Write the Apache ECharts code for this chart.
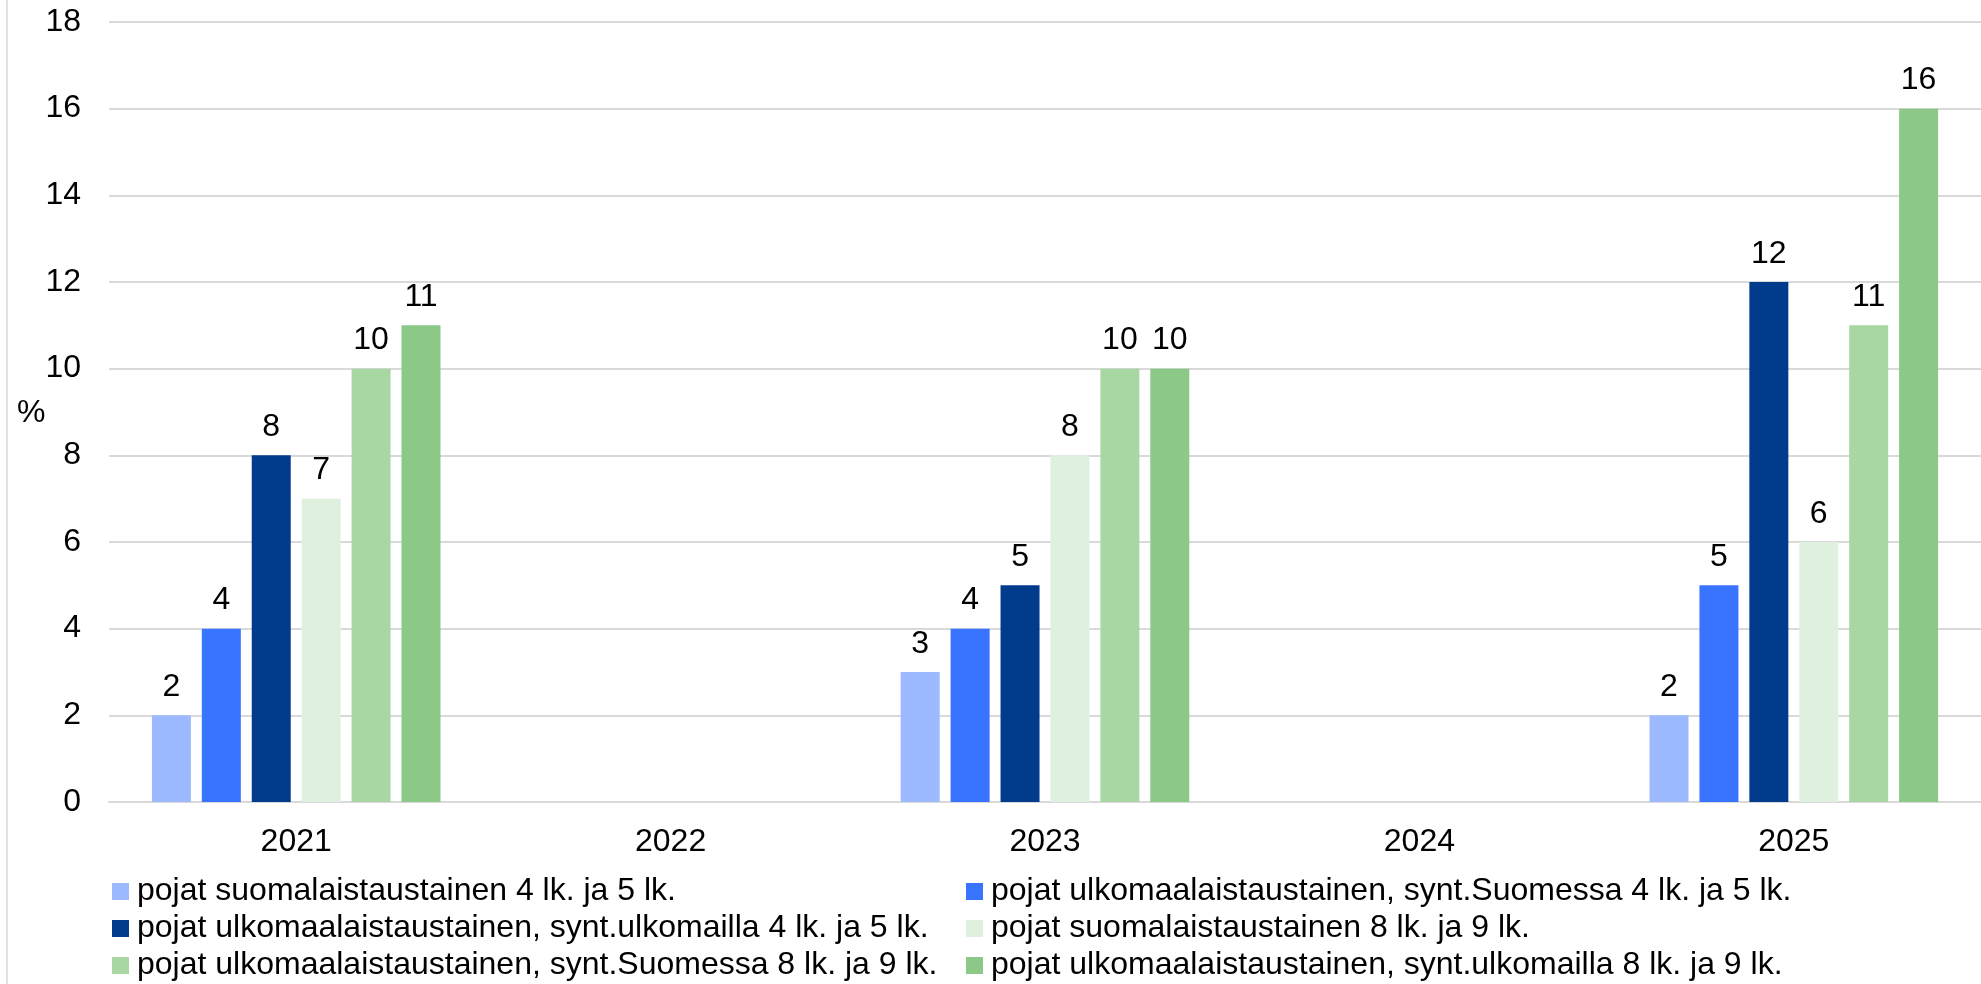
<!DOCTYPE html>
<html>
<head>
<meta charset="utf-8">
<script src="https://cdn.jsdelivr.net/npm/echarts@6/dist/echarts.min.js"></script>
<style>
html,body{margin:0;padding:0;background:#fff;}
#chart{width:1981px;height:984px;}
</style>
</head>
<body>
<div id="chart"></div>
<script>
const categories = ['2021', '2022', '2023', '2024', '2025'];
const seriesNames = [
  'pojat suomalaistaustainen 4 lk. ja 5 lk.',
  'pojat ulkomaalaistaustainen, synt.Suomessa 4 lk. ja 5 lk.',
  'pojat ulkomaalaistaustainen, synt.ulkomailla 4 lk. ja 5 lk.',
  'pojat suomalaistaustainen 8 lk. ja 9 lk.',
  'pojat ulkomaalaistaustainen, synt.Suomessa 8 lk. ja 9 lk.',
  'pojat ulkomaalaistaustainen, synt.ulkomailla 8 lk. ja 9 lk.'
];
const s1 = [2, null, 3, null, 2];
const s2 = [4, null, 4, null, 5];
const s3 = [8, null, 5, null, 12];
const s4 = [7, null, 8, null, 6];
const s5 = [10, null, 10, null, 11];
const s6 = [11, null, 10, null, 16];
const colors = ['#9DB9FF', '#3874FF', '#003B8C', '#E0F0DF', '#A8D7A3', '#8CC988'];
const yTicks = [0, 2, 4, 6, 8, 10, 12, 14, 16, 18];

const FONT = 'Liberation Sans, Arial, sans-serif';
const FS = 32;
const allData = [s1, s2, s3, s4, s5, s6];

const chart = echarts.init(document.getElementById('chart'));
chart.setOption({
  animation: false,
  color: colors,
  textStyle: { fontFamily: FONT },
  grid: { left: 109, right: -12, top: 22, bottom: 182, containLabel: false },
  graphic: [
    { type: 'line', shape: { x1: 7, y1: 0, x2: 7, y2: 984 }, style: { stroke: '#DDE3EA', lineWidth: 2 } },
    { type: 'text', left: 17, top: 397, style: { text: '%', fontSize: FS, fontFamily: FONT, fill: '#000' } }
  ],
  xAxis: {
    type: 'category',
    data: categories,
    axisLine: { show: true, lineStyle: { color: '#D9D9D9', width: 2 } },
    axisTick: { show: false },
    axisLabel: { color: '#000', fontSize: FS, fontFamily: FONT, margin: 24 }
  },
  yAxis: {
    type: 'value',
    min: yTicks[0],
    max: yTicks[yTicks.length - 1],
    interval: 2,
    axisLine: { show: false },
    axisTick: { show: false },
    axisLabel: { color: '#000', fontSize: FS, fontFamily: FONT, margin: 28 },
    splitLine: { lineStyle: { color: '#D9D9D9', width: 2 } }
  },
  legend: [
    {
      orient: 'vertical', left: 112, top: 873, padding: 0, itemGap: 0,
      itemWidth: 17, itemHeight: 17, icon: 'rect',
      data: [seriesNames[0], seriesNames[2], seriesNames[4]],
      textStyle: { fontSize: FS, fontFamily: FONT, color: '#000', lineHeight: 37, padding: [0, 0, 0, 3] }
    },
    {
      orient: 'vertical', left: 966, top: 873, padding: 0, itemGap: 0,
      itemWidth: 17, itemHeight: 17, icon: 'rect',
      data: [seriesNames[1], seriesNames[3], seriesNames[5]],
      textStyle: { fontSize: FS, fontFamily: FONT, color: '#000', lineHeight: 37, padding: [0, 0, 0, 3] }
    }
  ],
  series: allData.map((d, i) => ({
    name: seriesNames[i],
    type: 'bar',
    data: d,
    barWidth: 39,
    barGap: '28%',
    itemStyle: { color: colors[i] },
    label: { show: true, position: 'top', distance: 12, color: '#000', fontSize: FS, fontFamily: FONT }
  }))
});
</script>
</body>
</html>
